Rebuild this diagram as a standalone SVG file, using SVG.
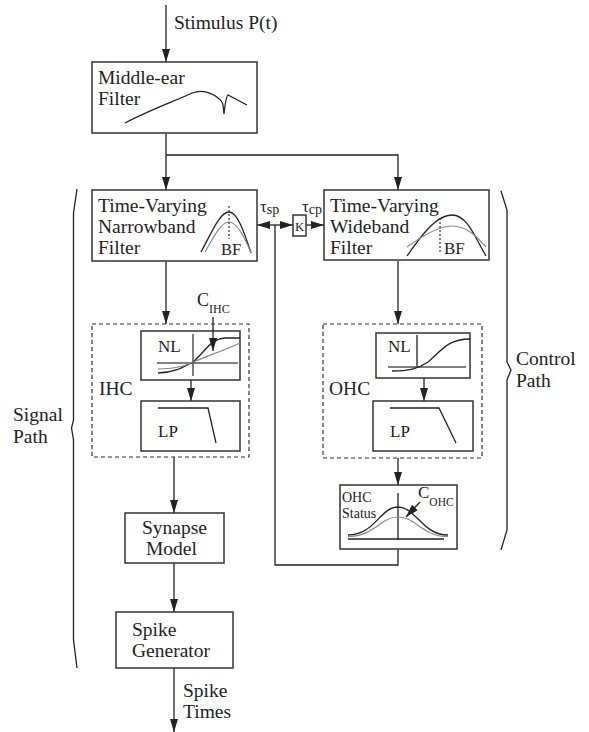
<svg xmlns="http://www.w3.org/2000/svg" width="589" height="732" viewBox="0 0 589 732">
<defs><marker id="a" markerUnits="userSpaceOnUse" markerWidth="13" markerHeight="9" refX="13" refY="4" orient="auto"><path d="M0 0L13 4L0 8z" fill="#222"/></marker></defs>
<style>
text{font-family:"Liberation Serif",serif;font-size:19.5px;fill:#222}
.b{fill:none;stroke:#333;stroke-width:1.5}
.l{fill:none;stroke:#222;stroke-width:1.3}
.g{fill:none;stroke:#888;stroke-width:1.2}
.x{fill:none;stroke:#555;stroke-width:1.5}
.d{fill:none;stroke:#333;stroke-width:1.2;stroke-dasharray:4 3}
.o{fill:none;stroke:#333;stroke-width:1.2;stroke-dasharray:2 2}
.s{font-size:12px}
.n{font-size:17px}
.t{font-size:14px}
.m{marker-end:url(#a)}
</style>
<rect width="589" height="732" fill="#fff"/>
<g id="connectors">
<path class="l m" d="M166 5V62"/><path class="l m" d="M166 133V190"/><path class="l m" d="M166 155H398V190"/>
<path class="l m" d="M166 261V324"/><path class="l m" d="M398 261V324"/><path class="l m" d="M191 380V401"/><path class="l m" d="M424 378V401"/>
<path class="l m" d="M174 457V513"/><path class="l m" d="M174 563V612"/><path class="l m" d="M174 668V732"/><path class="l m" d="M398 458V485"/>
<path class="l" d="M398 549V565H275V225"/><path class="l m" d="M275 225H257"/><path class="l m" d="M275 225H293"/><path class="l m" d="M306 225H324"/>
</g>
<g id="middle-ear"><rect class="b" x="92" y="62" width="165" height="71"/><text x="98" y="84">Middle-ear</text><text x="98" y="105">Filter</text><path class="l" d="M125 123C150 110 175 101 192 93C203 89 212 93 218 98C224 102 223 106 224 114C225 105 226 96 228 95L247 105"/></g>
<g id="narrowband"><rect class="b" x="92" y="190" width="165" height="71"/><text x="98" y="212">Time-Varying</text><text x="98" y="233">Narrowband</text><text x="98" y="254">Filter</text><path class="l" d="M201 252C212 232 220 212 229 212C238 212 245 235 251 253"/><path class="g" d="M205 252C214 236 221 222 229 222C237 222 245 238 251 253"/><path class="o" d="M229 206V239"/><text x="221" y="255" style="font-size:16.5px">BF</text></g>
<g id="k"><rect class="b" x="293" y="215" width="13" height="21"/><text x="295" y="231" style="font-size:13px">K</text></g>
<text x="260" y="212" class="n">τ<tspan class="t" dy="2">sp</tspan></text><text x="302" y="212" class="n">τ<tspan class="t" dy="2">cp</tspan></text>
<g id="wideband"><rect class="b" x="324" y="190" width="165" height="70"/><text x="330" y="212">Time-Varying</text><text x="330" y="233">Wideband</text><text x="330" y="254">Filter</text><path class="l" d="M407 256C425 230 438 215 452 215C468 215 476 240 486 256"/><path class="g" d="M407 247C425 234 440 226 452 226C468 226 478 238 486 247"/><path class="o" d="M440 218V252"/><text x="444" y="254" class="n">BF</text></g>
<g id="ihc"><rect class="d" x="92" y="324" width="157" height="133"/><text x="99" y="395">IHC</text><text x="197" y="306" style="font-size:18px">C<tspan class="s" dy="7">IHC</tspan></text>
<rect class="b" x="141" y="331" width="99" height="49"/><text x="158" y="352" class="n">NL</text><path class="x" d="M157 363H238M193 334V376"/><path class="l" d="M158 373C175 373 185 366 193 362C205 352 210 339 225 338H240"/><path class="g" d="M158 369C175 369 185 366 193 362C210 355 225 350 240 343"/>
<path class="l m" d="M213 317V351"/>
<rect class="b" x="141" y="401" width="99" height="50"/><text x="158" y="437" class="n">LP</text><path class="l" d="M158 408H208L216 443"/></g>
<g id="ohc"><rect class="d" x="323" y="324" width="159" height="134"/><text x="329" y="395">OHC</text>
<rect class="b" x="376" y="333" width="94" height="45"/><text x="388" y="352" class="n">NL</text><path class="l" d="M417 335V368"/><path class="x" d="M388 367H466"/><path class="l" d="M392 371C408 371 418 369 428 362C442 350 448 339 470 339"/>
<rect class="b" x="373" y="401" width="100" height="50"/><text x="390" y="437" class="n">LP</text><path class="l" d="M390 408H439L456 443"/></g>
<g id="ohc-status"><rect class="b" x="340" y="485" width="117" height="64"/><text x="342" y="502" class="t">OHC</text><text x="342" y="518" class="t">Status</text><text x="418" y="498" class="n">C<tspan style="font-size:11.5px" dy="8">OHC</tspan></text><path class="l" d="M398 493V540M348 539H444"/><path class="l" d="M348 535C375 535 380 507 398 507C416 507 422 535 448 535"/><path class="g" d="M348 536.500C375 536.500 380 517 398 517C416 517 422 536.500 448 536.500"/><path class="l m" d="M420 502L406 517"/></g>
<g id="synapse"><rect class="b" x="125" y="513" width="99" height="50"/><text x="142" y="534">Synapse</text><text x="146" y="555">Model</text></g>
<g id="spike"><rect class="b" x="116" y="612" width="117" height="56"/><text x="132" y="636">Spike</text><text x="132" y="657">Generator</text></g>
<text x="183" y="697">Spike</text><text x="183" y="718">Times</text>
<text x="174" y="29">Stimulus P(t)</text>
<g id="signal"><text x="13" y="421">Signal</text><text x="13" y="443">Path</text><path class="l" d="M77 189L73.500 213V420L71.500 428L73.500 440V640L77 668"/></g>
<g id="control"><text x="516" y="365">Control</text><text x="516" y="387">Path</text><path class="l" d="M501 191L507 210V362L511 370L507 380V530L501 550"/></g>
</svg>
